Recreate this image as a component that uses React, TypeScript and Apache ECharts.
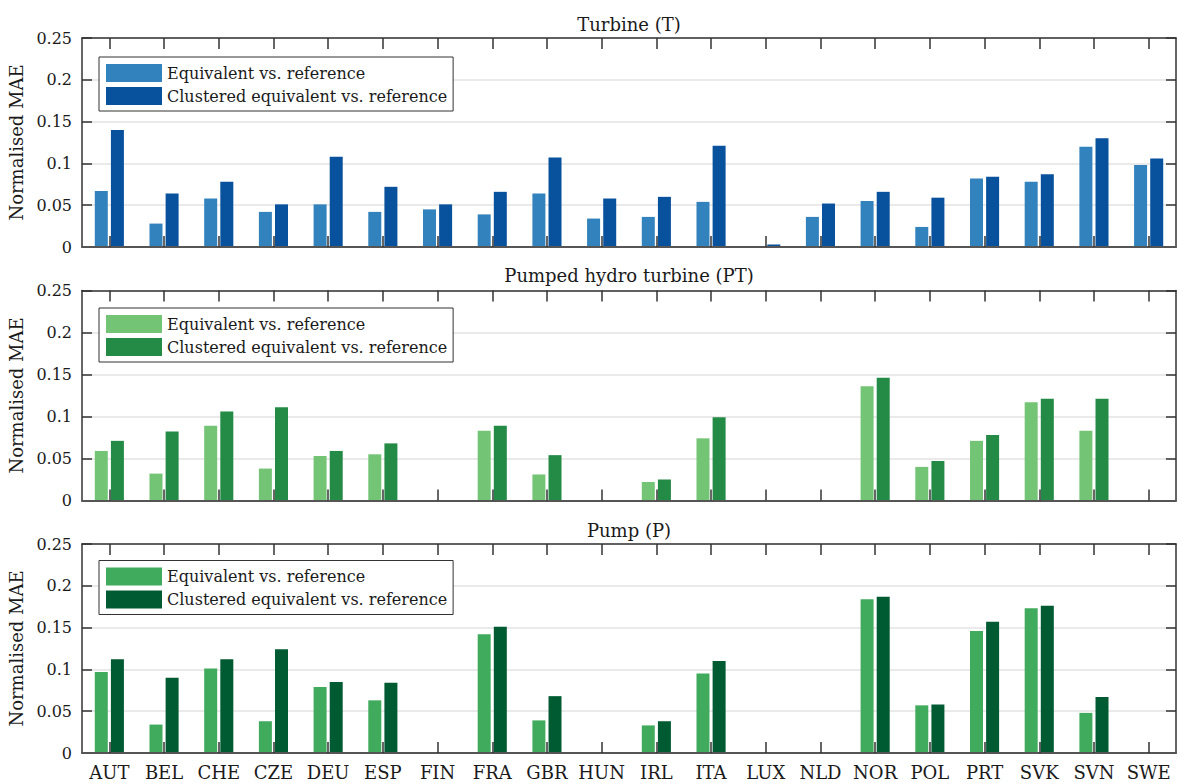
import React, { useEffect, useRef } from "react";
import * as echarts from "echarts";

const categories = ["AUT", "BEL", "CHE", "CZE", "DEU", "ESP", "FIN", "FRA", "GBR", "HUN", "IRL", "ITA", "LUX", "NLD", "NOR", "POL", "PRT", "SVK", "SVN", "SWE"];

const yTicks = [0, 0.05, 0.1, 0.15, 0.2, 0.25];

const panelTitles = ["Turbine (T)", "Pumped hydro turbine (PT)", "Pump (P)"];
const seriesNames = ["Equivalent vs. reference", "Clustered equivalent vs. reference"];

const turbineEquivalent = [0.067, 0.028, 0.058, 0.042, 0.051, 0.042, 0.045, 0.039, 0.064, 0.034, 0.036, 0.054, 0, 0.036, 0.055, 0.024, 0.082, 0.078, 0.12, 0.098];
const turbineClustered = [0.14, 0.064, 0.078, 0.051, 0.108, 0.072, 0.051, 0.066, 0.107, 0.058, 0.06, 0.121, 0.003, 0.052, 0.066, 0.059, 0.084, 0.087, 0.13, 0.106];

const pumpedEquivalent = [0.059, 0.032, 0.089, 0.038, 0.053, 0.055, null, 0.083, 0.031, null, 0.022, 0.074, null, null, 0.136, 0.04, 0.071, 0.117, 0.083, null];
const pumpedClustered = [0.071, 0.082, 0.106, 0.111, 0.059, 0.068, null, 0.089, 0.054, null, 0.025, 0.099, null, null, 0.146, 0.047, 0.078, 0.121, 0.121, null];

const pumpEquivalent = [0.097, 0.034, 0.101, 0.038, 0.079, 0.063, null, 0.142, 0.039, null, 0.033, 0.095, null, null, 0.184, 0.057, 0.146, 0.173, 0.048, null];
const pumpClustered = [0.112, 0.09, 0.112, 0.124, 0.085, 0.084, null, 0.151, 0.068, null, 0.038, 0.11, null, null, 0.187, 0.058, 0.157, 0.176, 0.067, null];

const panelData = [
  [turbineEquivalent, turbineClustered],
  [pumpedEquivalent, pumpedClustered],
  [pumpEquivalent, pumpClustered],
];
const panelColors = [
  ["#3182bd", "#08519c"],
  ["#74c476", "#238b45"],
  ["#41ab5d", "#005a32"],
];

const FONT = "DejaVu Serif";
const TEXT = "#1a1a1a";
const LINE = "#333333";

const gridTops = [38, 290.5, 544];
const gridHeights = [209, 210, 209];
const legendTops = [57, 308, 560.5];
const titleTops = [15, 266, 521];
const GRID_LEFT = 82;
const GRID_WIDTH = 1094;

const blankLabel = { show: true, interval: 0, formatter: () => " ", fontSize: 1, margin: 0, color: "rgba(0,0,0,0)" };

export default function App() {
  const ref = useRef<HTMLDivElement>(null);

  useEffect(() => {
    if (!ref.current) return;
    const chart = echarts.init(ref.current, undefined, { renderer: "svg" });

    const grid: any[] = [];
    const xAxis: any[] = [];
    const yAxis: any[] = [];
    const series: any[] = [];
    const legend: any[] = [];
    const title: any[] = [];

    for (let p = 0; p < 3; p++) {
      const rect = {
        left: GRID_LEFT,
        top: gridTops[p],
        width: GRID_WIDTH,
        height: gridHeights[p],
        containLabel: false,
        outerBoundsMode: "none",
      };
      grid.push({ ...rect });
      grid.push({ ...rect });
      const gMain = p * 2;
      const gOver = p * 2 + 1;

      title.push({
        text: panelTitles[p],
        left: GRID_LEFT + GRID_WIDTH / 2,
        textAlign: "center",
        top: titleTops[p],
        padding: 0,
        textStyle: { fontFamily: FONT, fontSize: 18, fontWeight: "normal", color: TEXT, lineHeight: 18 },
      });

      xAxis.push({
        type: "category",
        gridIndex: gMain,
        data: categories,
        position: "bottom",
        z: 5,
        axisLine: { show: true, onZero: false, lineStyle: { color: "#555", width: 2 } },
        axisTick: { show: true, inside: true, length: 11, alignWithLabel: true, lineStyle: { color: LINE, width: 1.5 } },
        axisLabel: p === 2
          ? { show: true, interval: 0, fontFamily: FONT, fontSize: 18, color: TEXT, margin: 10 }
          : blankLabel,
        splitLine: { show: false },
      });
      xAxis.push({
        type: "category",
        gridIndex: gOver,
        data: categories,
        position: "top",
        axisLine: { show: true, onZero: false, lineStyle: { color: LINE, width: 1.5 } },
        axisTick: { show: true, inside: true, length: 11, alignWithLabel: true, lineStyle: { color: LINE, width: 1.5 } },
        axisLabel: blankLabel,
        splitLine: { show: false },
      });

      yAxis.push({
        type: "value",
        gridIndex: gMain,
        min: yTicks[0],
        max: yTicks[yTicks.length - 1],
        interval: 0.05,
        position: "left",
        name: "Normalised MAE",
        nameLocation: "middle",
        nameGap: 54,
        nameTextStyle: { fontFamily: FONT, fontSize: 18, color: TEXT },
        axisLine: { show: true, onZero: false, lineStyle: { color: LINE, width: 1.5 } },
        axisTick: { show: true, inside: true, length: 10, lineStyle: { color: LINE, width: 1.5 } },
        axisLabel: { fontFamily: FONT, fontSize: 16, color: TEXT, margin: 10 },
        splitLine: { show: true, lineStyle: { color: "#e3e3e3", width: 1.5 } },
      });
      yAxis.push({
        type: "value",
        gridIndex: gOver,
        min: yTicks[0],
        max: yTicks[yTicks.length - 1],
        interval: 0.05,
        position: "right",
        axisLine: { show: true, onZero: false, lineStyle: { color: LINE, width: 1.5 } },
        axisTick: { show: true, inside: true, length: 10, lineStyle: { color: LINE, width: 1.5 } },
        axisLabel: { show: false },
        splitLine: { show: false },
      });

      for (let s = 0; s < 2; s++) {
        series.push({
          type: "bar",
          name: seriesNames[s],
          xAxisIndex: p * 2,
          yAxisIndex: p * 2,
          data: panelData[p][s],
          barWidth: 13,
          barGap: "24%",
          itemStyle: { color: panelColors[p][s] },
          z: 2,
        });
      }

      legend.push({
        orient: "vertical",
        left: 99,
        top: legendTops[p],
        selectedMode: false,
        icon: "rect",
        itemWidth: 56,
        itemHeight: 18,
        itemGap: 5,
        padding: [7, 6, 6, 7],
        borderColor: LINE,
        borderWidth: 1,
        backgroundColor: "#ffffff",
        textStyle: { fontFamily: FONT, fontSize: 16, color: TEXT },
        data: seriesNames.map((n, s) => ({ name: n, itemStyle: { color: panelColors[p][s] } })),
      });
    }

    chart.setOption({
      animation: false,
      backgroundColor: "#ffffff",
      title,
      grid,
      xAxis,
      yAxis,
      legend,
      series,
    });

    return () => chart.dispose();
  }, []);

  return (
    <div
      ref={ref}
      style={{ position: "fixed", left: 0, top: 0, width: 1178, height: 782, background: "#fff" }}
    />
  );
}
